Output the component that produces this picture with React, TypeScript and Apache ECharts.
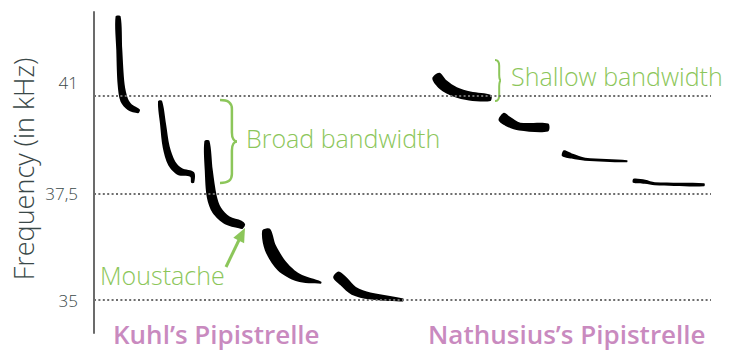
import React, { useEffect, useRef } from "react";
import * as echarts from "echarts";

// Y axis is ordinal-ish: levels where the three reference frequencies sit
const TICK_LABELS = ["35", "37,5", "41"];
const TICK_LEVELS = [0, 1.04, 2];

// Call centre-lines: [time (0-100 units), frequency level]
const KUHL_CALL_1 = [[3.9, 2.78], [4.1, 2.45], [4.4, 2.11], [4.9, 1.96], [5.8, 1.89], [7.3, 1.85]];
const KUHL_CALL_2 = [[10.7, 1.95], [11.2, 1.72], [11.7, 1.5], [12.6, 1.34], [13.9, 1.26], [15.9, 1.23], [16.0, 1.15]];
const KUHL_CALL_3 = [[18.3, 1.56], [18.6, 1.27], [19.1, 1.01], [19.9, 0.88], [21.6, 0.78], [23.7, 0.74], [24.3, 0.72]];
const KUHL_CALL_4 = [[27.9, 0.69], [28.6, 0.51], [30.5, 0.33], [33.1, 0.22], [36.8, 0.17]];
const KUHL_CALL_5 = [[39.2, 0.25], [40.5, 0.18], [42.1, 0.09], [44.7, 0.04], [50.1, 0.0]];
const NATH_CALL_1 = [[55.4, 2.2], [56.6, 2.11], [58.5, 2.04], [60.9, 2.0], [64.3, 1.98]];
const NATH_CALL_2 = [[66.0, 1.8], [67.1, 1.75], [69.0, 1.7], [73.6, 1.69]];
const NATH_CALL_3 = [[76.0, 1.44], [77.5, 1.41], [79.6, 1.38], [86.4, 1.36]];
const NATH_CALL_4 = [[87.4, 1.17], [89.3, 1.16], [90.9, 1.14], [98.9, 1.13]];

const CALLS = [KUHL_CALL_1, KUHL_CALL_2, KUHL_CALL_3, KUHL_CALL_4, KUHL_CALL_5, NATH_CALL_1, NATH_CALL_2, NATH_CALL_3, NATH_CALL_4];

// stroke thickness profile (px) for each call – styling only
const CALL_WIDTHS = [
  [5, 6, 7, 8, 7, 4],
  [4, 6, 7, 8, 8, 6, 3],
  [5, 8, 10, 10, 9, 8, 5],
  [8, 12, 12, 8, 2],
  [8, 10, 9, 7, 3],
  [9, 11, 10, 9, 6],
  [9, 10, 8, 8],
  [6, 5, 3, 2],
  [4, 4, 3, 3],
];

const GREEN = "#8cc65a";
const PINK = "#c98abf";
const DARK = "#3a4848";
const FONT = "'Open Sans'";

function bracePath(w: number, h: number) {
  const s = w * 0.7;
  const r = Math.min(9, h / 7);
  const m = h / 2;
  return `M0,0 C${s * 0.7},0 ${s},${r * 0.3} ${s},${r} L${s},${m - r} C${s},${m - r * 0.3} ${w * 0.85},${m} ${w},${m} C${w * 0.85},${m} ${s},${m + r * 0.3} ${s},${m + r} L${s},${h - r} C${s},${h - r * 0.3} ${s * 0.7},${h} 0,${h}`;
}

echarts.graphic.registerShape("braceBroad", echarts.graphic.extendPath(bracePath(17, 83), {}) as any);
echarts.graphic.registerShape("braceShallow", echarts.graphic.extendPath(bracePath(6, 41), {}) as any);

function callSeries(points: number[][], widths: number[], idx: number) {
  return {
    type: "custom",
    name: "call" + idx,
    coordinateSystem: "cartesian2d",
    silent: true,
    data: points,
    renderItem: (params: any, api: any) => {
      if (params.dataIndex !== 0) return null;
      const px = points.map((p) => api.coord(p));
      const n = px.length;
      const left: number[][] = [];
      const right: number[][] = [];
      for (let i = 0; i < n; i++) {
        const a = px[Math.max(0, i - 1)];
        const b = px[Math.min(n - 1, i + 1)];
        let tx = b[0] - a[0];
        let ty = b[1] - a[1];
        const l = Math.hypot(tx, ty) || 1;
        tx /= l;
        ty /= l;
        const nx = -ty;
        const ny = tx;
        const h = widths[i] / 2;
        left.push([px[i][0] + nx * h, px[i][1] + ny * h]);
        right.push([px[i][0] - nx * h, px[i][1] - ny * h]);
      }
      return {
        type: "polygon",
        shape: { points: [...left, ...right.reverse()], smooth: 0.3 },
        style: { fill: "#000" },
      };
    },
  };
}

export default function App() {
  const ref = useRef<HTMLDivElement>(null);
  useEffect(() => {
    if (!ref.current) return;
    const chart = echarts.init(ref.current, null, { renderer: "svg" });
    const arrowTip = [245, 228];
    chart.setOption({
      animation: false,
      backgroundColor: "#fff",
      grid: { left: 94, right: 39, top: 12, bottom: 18 },
      xAxis: { type: "value", min: 0, max: 100, show: false },
      yAxis: {
        type: "value",
        min: -0.3235,
        max: 2.8235,
        axisLine: { show: true, lineStyle: { color: "#6b6b6b", width: 2 } },
        axisTick: { show: false },
        axisLabel: { show: false },
        splitLine: { show: false },
      },
      series: [
        {
          type: "line",
          data: [],
          silent: true,
          markLine: {
            silent: true,
            symbol: ["none", "none"],
            lineStyle: { color: "#6e6e6e", type: [2, 2.4], width: 2 },
            label: {
              position: "start",
              distance: 16,
              color: DARK,
              fontSize: 17,
              fontFamily: FONT,
              fontWeight: 300,
              formatter: (p: any) => p.name,
            },
            data: TICK_LEVELS.map((v, i) => ({
              yAxis: v,
              name: TICK_LABELS[i],
              label: i === 2 ? { offset: [0, -13] } : {},
            })),
          },
        },
        ...CALLS.map((c, i) => callSeries(c, CALL_WIDTHS[i], i)),
      ],
      graphic: [
        {
          type: "text",
          x: 23,
          y: 169,
          rotation: Math.PI / 2,
          style: { text: "Frequency (in kHz)", fill: DARK, font: `300 27px ${FONT}`, align: "center", verticalAlign: "middle" },
        },
        { type: "braceBroad", x: 220, y: 100, style: { stroke: GREEN, lineWidth: 2.5, fill: "none" } },
        { type: "braceShallow", x: 495, y: 60, style: { stroke: GREEN, lineWidth: 2, fill: "none" } },
        {
          type: "text",
          x: 246,
          y: 138,
          style: { text: "Broad bandwidth", fill: GREEN, font: `300 25px ${FONT}`, align: "left", verticalAlign: "middle" },
        },
        {
          type: "text",
          x: 511,
          y: 76,
          style: { text: "Shallow bandwidth", fill: GREEN, font: `300 25px ${FONT}`, align: "left", verticalAlign: "middle" },
        },
        {
          type: "text",
          x: 100,
          y: 275,
          style: { text: "Moustache", fill: GREEN, font: `300 25px ${FONT}`, align: "left", verticalAlign: "middle" },
        },
        { type: "line", shape: { x1: 226, y1: 267, x2: 239, y2: 240 }, style: { stroke: GREEN, lineWidth: 3 } },
        {
          type: "polygon",
          shape: { points: [arrowTip, [233.3, 237.8], [244.1, 243.2]] },
          style: { fill: GREEN },
        },
        {
          type: "text",
          x: 113,
          y: 334,
          style: { text: "Kuhl’s Pipistrelle", fill: PINK, font: `600 26px ${FONT}`, align: "left", verticalAlign: "middle" },
        },
        {
          type: "text",
          x: 428,
          y: 334,
          style: { text: "Nathusius’s Pipistrelle", fill: PINK, font: `600 26px ${FONT}`, align: "left", verticalAlign: "middle" },
        },
      ],
    });
    return () => chart.dispose();
  }, []);
  return <div ref={ref} style={{ position: "fixed", left: 0, top: 0, width: 750, height: 351 }} />;
}
